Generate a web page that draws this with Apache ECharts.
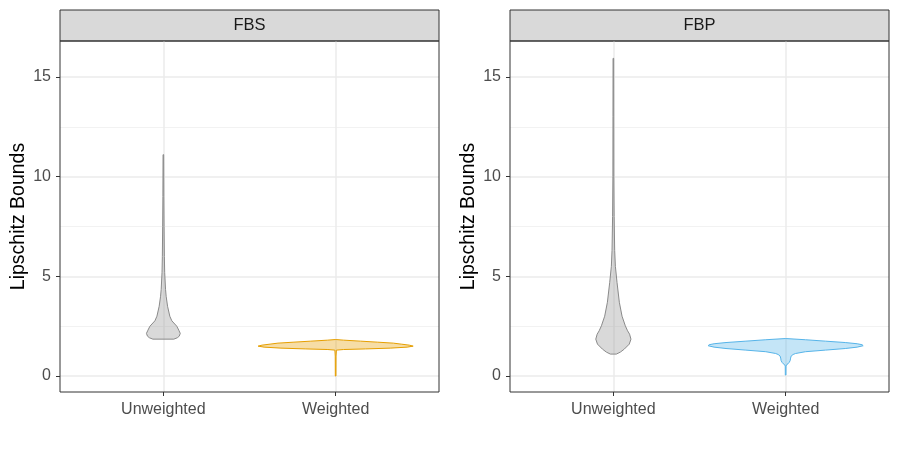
<!DOCTYPE html>
<html>
<head>
<meta charset="utf-8">
<script src="https://cdn.jsdelivr.net/npm/echarts@6/dist/echarts.min.js"></script>
<style>
  html, body { margin: 0; padding: 0; background: #fff; }
  #chart { width: 900px; height: 450px; }
</style>
</head>
<body>
<div id="chart"></div>
<script>
// facet panels and x categories
const panels = ['FBS', 'FBP'];
const groups = ['Unweighted', 'Weighted'];
const yTicks = [0, 5, 10, 15];
const yMinorTicks = [2.5, 7.5, 12.5];
const yMin = -0.8;
const yMax = 16.8;

// violin profiles: value along y, density relative to the widest violin
const fbsUnweightedY = [1.85, 1.92, 2.0, 2.14, 2.3, 2.5, 2.77, 3.0, 3.5, 4.0, 4.35, 5.2, 6.0, 7.5, 9.0, 11.1];
const fbsUnweightedDensity = [0.135, 0.18, 0.205, 0.218, 0.199, 0.173, 0.109, 0.083, 0.054, 0.036, 0.028, 0.017, 0.013, 0.009, 0.006, 0.004];

const fbsWeightedY = [0.0, 1.0, 1.3, 1.33, 1.36, 1.4, 1.45, 1.5, 1.55, 1.6, 1.65, 1.7, 1.75, 1.8, 1.83];
const fbsWeightedDensity = [0.004, 0.005, 0.01, 0.1, 0.385, 0.705, 0.923, 1.0, 0.949, 0.846, 0.744, 0.538, 0.321, 0.103, 0.006];

const fbpUnweightedY = [1.1, 1.2, 1.35, 1.6, 1.85, 2.1, 2.27, 2.52, 3.0, 3.7, 4.7, 5.5, 6.3, 8.0, 10.0, 13.0, 15.93];
const fbpUnweightedDensity = [0.038, 0.09, 0.141, 0.205, 0.227, 0.209, 0.183, 0.154, 0.112, 0.077, 0.047, 0.026, 0.017, 0.01, 0.006, 0.005, 0.004];

const fbpWeightedY = [0.05, 0.5, 0.57, 0.62, 0.68, 0.77, 0.9, 1.0, 1.08, 1.13, 1.22, 1.3, 1.38, 1.45, 1.52, 1.57, 1.62, 1.68, 1.75, 1.82, 1.88];
const fbpWeightedDensity = [0.004, 0.005, 0.013, 0.032, 0.045, 0.058, 0.064, 0.071, 0.096, 0.128, 0.256, 0.513, 0.769, 0.923, 1.0, 0.987, 0.923, 0.769, 0.513, 0.256, 0.006];

const violins = [
  [[fbsUnweightedY, fbsUnweightedDensity], [fbsWeightedY, fbsWeightedDensity]],
  [[fbpUnweightedY, fbpUnweightedDensity], [fbpWeightedY, fbpWeightedDensity]]
];

const fillColors = [
  ['rgba(160,160,160,0.4)', 'rgba(230,159,0,0.35)'],
  ['rgba(160,160,160,0.4)', 'rgba(86,180,233,0.35)']
];
const lineColors = [
  ['#8a8a8a', '#E69F00'],
  ['#8a8a8a', '#56B4E9']
];

const font = 'Liberation Sans, Arial, sans-serif';
// half of the full violin width, in category units (ggplot width 0.9)
const halfWidth = 0.45;

const grids = [
  { left: 60, top: 41, width: 379, height: 351 },
  { left: 510, top: 41, width: 379, height: 351 }
];

const chart = echarts.init(document.getElementById('chart'));

function violinRenderer(p) {
  return function (params, api) {
    const g = params.dataIndex;
    const ys = violins[p][g][0];
    const ds = violins[p][g][1];
    const x = api.value(0);
    const pts = [];
    for (let i = 0; i < ys.length; i++) {
      pts.push(api.coord([x - ds[i] * halfWidth, ys[i]]));
    }
    for (let i = ys.length - 1; i >= 0; i--) {
      pts.push(api.coord([x + ds[i] * halfWidth, ys[i]]));
    }
    return {
      type: 'polygon',
      shape: { points: pts },
      style: {
        fill: fillColors[p][g],
        stroke: lineColors[p][g],
        lineWidth: 1
      }
    };
  };
}

const option = {
  animation: false,
  backgroundColor: '#fff',
  textStyle: { fontFamily: font },
  grid: grids.map(g => ({
    left: g.left, top: g.top, width: g.width, height: g.height,
    show: true, borderColor: '#333', borderWidth: 1, backgroundColor: 'transparent', z: 3
  })),
  xAxis: panels.map((name, i) => ({
    gridIndex: i,
    type: 'value',
    min: 0.4,
    max: 2.6,
    axisLine: { show: false, onZero: false },
    axisTick: { show: true, length: 4, customValues: [1, 2], lineStyle: { color: '#333' } },
    axisLabel: {
      customValues: [1, 2],
      formatter: v => groups[Math.round(v) - 1] || '',
      color: '#4d4d4d', fontSize: 16, margin: 10
    },
    splitLine: { show: true, lineStyle: { color: '#ebebeb', width: 1.5 } }
  })),
  yAxis: [].concat(
    panels.map((name, i) => ({
      gridIndex: i,
      type: 'value',
      min: yMin,
      max: yMax,
      name: 'Lipschitz Bounds',
      nameLocation: 'middle',
      nameGap: 31,
      nameTextStyle: { color: '#000', fontSize: 19.5 },
      axisLine: { show: false, onZero: false },
      axisTick: { show: true, length: 4, customValues: yTicks, lineStyle: { color: '#333' } },
      axisLabel: { customValues: yTicks, color: '#4d4d4d', fontSize: 16, margin: 9 },
      splitLine: { show: true, lineStyle: { color: '#ebebeb', width: 1.5 } }
    })),
    panels.map((name, i) => ({
      gridIndex: i,
      type: 'value',
      min: yMin,
      max: yMax,
      position: 'left',
      axisLine: { show: false, onZero: false },
      axisTick: { show: false, customValues: yMinorTicks },
      axisLabel: { show: false, customValues: yMinorTicks },
      splitLine: { show: true, lineStyle: { color: '#f2f2f2', width: 1 } }
    }))
  ),
  series: panels.map((name, i) => ({
    type: 'custom',
    xAxisIndex: i,
    yAxisIndex: i,
    renderItem: violinRenderer(i),
    data: groups.map((g, j) => [j + 1, 0]),
    z: 2
  })),
  graphic: [].concat(...grids.map((g, i) => [
    {
      type: 'rect',
      shape: { x: g.left, y: 10, width: g.width, height: g.top - 10 },
      style: { fill: '#d9d9d9', stroke: '#333', lineWidth: 1 }
    },
    {
      type: 'text',
      x: g.left + g.width / 2,
      y: (10 + g.top) / 2,
      style: {
        text: panels[i], fill: '#1a1a1a', font: '16.5px ' + font,
        align: 'center', verticalAlign: 'middle'
      }
    }
  ]))
};

chart.setOption(option);
</script>
</body>
</html>
